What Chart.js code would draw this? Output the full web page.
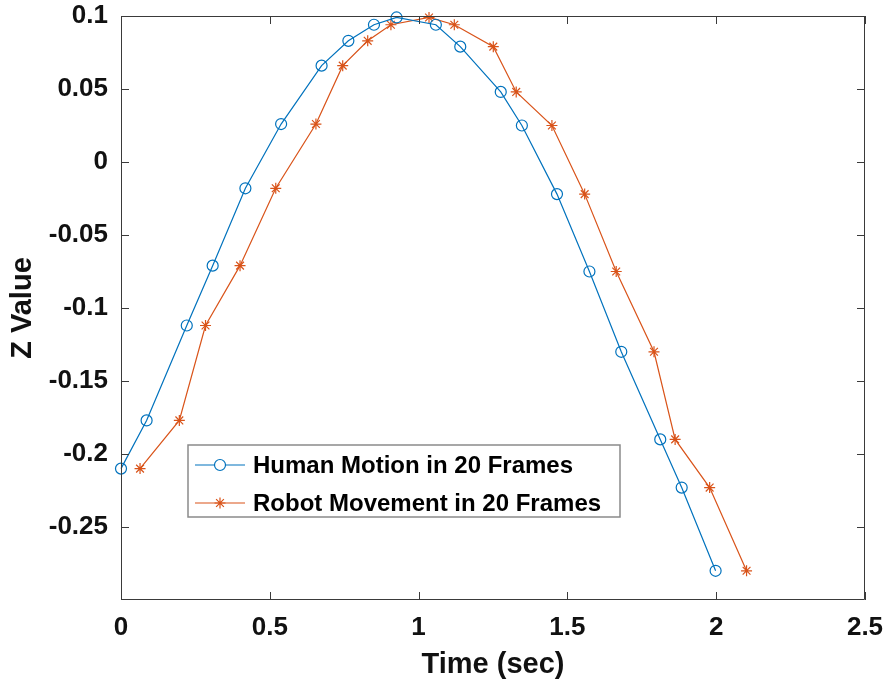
<!DOCTYPE html>
<html>
<head>
<meta charset="utf-8">
<title>Z Value</title>
<script src="https://cdn.jsdelivr.net/npm/chart.js@4.4.1/dist/chart.umd.min.js"></script>
<style>
  body { margin: 0; background: #fff; }
  #wrap { width: 888px; height: 687px; }
</style>
</head>
<body>
<div id="wrap"><canvas id="grafico" width="888" height="687"></canvas></div>
<script>
// tiempos y valores Z de cada serie (20 frames)
const humanTime = [0, 0.086, 0.221, 0.308, 0.418, 0.538, 0.674, 0.764, 0.850, 0.926,
  1.058, 1.140, 1.276, 1.347, 1.465, 1.574, 1.681, 1.812, 1.884, 1.998];
const humanZ = [-0.210, -0.177, -0.112, -0.071, -0.018, 0.026, 0.066, 0.083, 0.094, 0.099,
  0.094, 0.079, 0.048, 0.025, -0.022, -0.075, -0.130, -0.190, -0.223, -0.280];

const robotTime = [0.064, 0.196, 0.284, 0.400, 0.520, 0.655, 0.745, 0.829, 0.907, 1.035,
  1.120, 1.251, 1.328, 1.448, 1.558, 1.664, 1.791, 1.862, 1.978, 2.102];
const robotZ = [-0.210, -0.177, -0.112, -0.071, -0.018, 0.026, 0.066, 0.083, 0.094, 0.099,
  0.094, 0.079, 0.048, 0.025, -0.022, -0.075, -0.130, -0.190, -0.223, -0.280];

const xTicks = [0, 0.5, 1, 1.5, 2, 2.5];
const yTicks = [-0.25, -0.2, -0.15, -0.1, -0.05, 0, 0.05, 0.1];

const seriesLabels = ["Human Motion in 20 Frames", "Robot Movement in 20 Frames"];
const azul = "#0072BD";
const naranja = "#D95319";

const toPoints = (xs, ys) => xs.map((x, i) => ({ x: x, y: ys[i] }));
// "0.1" y no "0.10", "1" y no "1.0"
const etiqueta = (v) => String(parseFloat(Number(v).toFixed(3)));

// caja del eje con marcas hacia adentro, estilo matlab
const cajaEjes = {
  id: "cajaEjes",
  afterDraw(chart) {
    const { ctx, chartArea: a, scales } = chart;
    const largo = 8;
    ctx.save();
    ctx.strokeStyle = "#3a3a3a";
    ctx.lineWidth = 1;
    ctx.beginPath();
    ctx.rect(a.left + 0.5, a.top + 0.5, a.right - a.left - 1, a.bottom - a.top - 1);
    xTicks.forEach((v) => {
      const px = Math.round(scales.x.getPixelForValue(v)) + 0.5;
      ctx.moveTo(px, a.bottom);
      ctx.lineTo(px, a.bottom - largo);
      ctx.moveTo(px, a.top);
      ctx.lineTo(px, a.top + largo);
    });
    yTicks.forEach((v) => {
      const py = Math.round(scales.y.getPixelForValue(v)) + 0.5;
      ctx.moveTo(a.left, py);
      ctx.lineTo(a.left + largo, py);
      ctx.moveTo(a.right, py);
      ctx.lineTo(a.right - largo, py);
    });
    ctx.stroke();
    ctx.restore();
  },
};

// leyenda dentro del area de la grafica
const leyenda = {
  id: "leyenda",
  afterDraw(chart) {
    const { ctx } = chart;
    const caja = { x: 188, y: 445, w: 432, h: 72 };
    ctx.save();
    ctx.fillStyle = "#fff";
    ctx.fillRect(caja.x, caja.y, caja.w, caja.h);
    ctx.strokeStyle = "#8a8a8a";
    ctx.lineWidth = 1.5;
    ctx.strokeRect(caja.x, caja.y, caja.w, caja.h);
    ctx.font = "bold 24px 'Liberation Sans', Arial, sans-serif";
    ctx.textBaseline = "middle";
    chart.data.datasets.forEach((ds, i) => {
      const yy = caja.y + 20 + i * 38;
      ctx.strokeStyle = ds.borderColor;
      ctx.lineWidth = 1.2;
      ctx.beginPath();
      ctx.moveTo(195, yy);
      ctx.lineTo(245, yy);
      ctx.stroke();
      Chart.helpers.drawPoint(ctx, {
        pointStyle: ds.pointStyle,
        radius: 5.5,
        borderWidth: 1.2,
        rotation: 0,
      }, 220, yy);
      ctx.fillStyle = "#000";
      ctx.fillText(ds.label, 253, yy + 1);
    });
    ctx.restore();
  },
};

const fuenteTicks = { family: "'Liberation Sans', Arial, sans-serif", size: 26, weight: "bold" };
const fuenteTitulo = { family: "'Liberation Sans', Arial, sans-serif", size: 29, weight: "bold" };

new Chart(document.getElementById("grafico"), {
  type: "scatter",
  data: {
    datasets: [
      {
        label: seriesLabels[0],
        data: toPoints(humanTime, humanZ),
        showLine: true,
        clip: false,
        borderColor: azul,
        backgroundColor: "rgba(0,0,0,0)",
        borderWidth: 1.2,
        pointStyle: "circle",
        pointRadius: 5.5,
        pointBorderWidth: 1.2,
        pointBorderColor: azul,
        pointBackgroundColor: "rgba(0,0,0,0)",
      },
      {
        label: seriesLabels[1],
        data: toPoints(robotTime, robotZ),
        showLine: true,
        clip: false,
        borderColor: naranja,
        backgroundColor: "rgba(0,0,0,0)",
        borderWidth: 1.2,
        pointStyle: "star",
        pointRadius: 5.5,
        pointBorderWidth: 1.2,
        pointBorderColor: naranja,
        pointBackgroundColor: naranja,
      },
    ],
  },
  options: {
    responsive: false,
    animation: false,
    devicePixelRatio: 1,
    layout: { padding: { top: 16, right: 23, left: 0, bottom: 0 } },
    plugins: {
      legend: { display: false },
      tooltip: { enabled: false },
    },
    scales: {
      x: {
        type: "linear",
        min: 0,
        max: 2.5,
        afterFit: (scale) => {
          scale.height = 87;
          scale.paddingLeft = 0;
          scale.paddingRight = 0;
        },
        afterBuildTicks: (scale) => { scale.ticks = xTicks.map((v) => ({ value: v })); },
        grid: { display: false, drawTicks: false },
        border: { display: false },
        ticks: { font: fuenteTicks, color: "#111", padding: 12, maxRotation: 0, callback: etiqueta },
        title: { display: true, text: "Time (sec)", font: fuenteTitulo, color: "#111", padding: { bottom: 5 } },
      },
      y: {
        type: "linear",
        min: -0.3,
        max: 0.1,
        afterFit: (scale) => {
          scale.width = 121;
          scale.paddingTop = 0;
          scale.paddingBottom = 0;
        },
        afterBuildTicks: (scale) => { scale.ticks = yTicks.map((v) => ({ value: v })); },
        grid: { display: false, drawTicks: false },
        border: { display: false },
        ticks: { font: fuenteTicks, color: "#111", padding: 13, callback: etiqueta },
        title: { display: true, text: "Z Value", font: fuenteTitulo, color: "#111", padding: { top: 6 } },
      },
    },
  },
  plugins: [cajaEjes, leyenda],
});
</script>
</body>
</html>
